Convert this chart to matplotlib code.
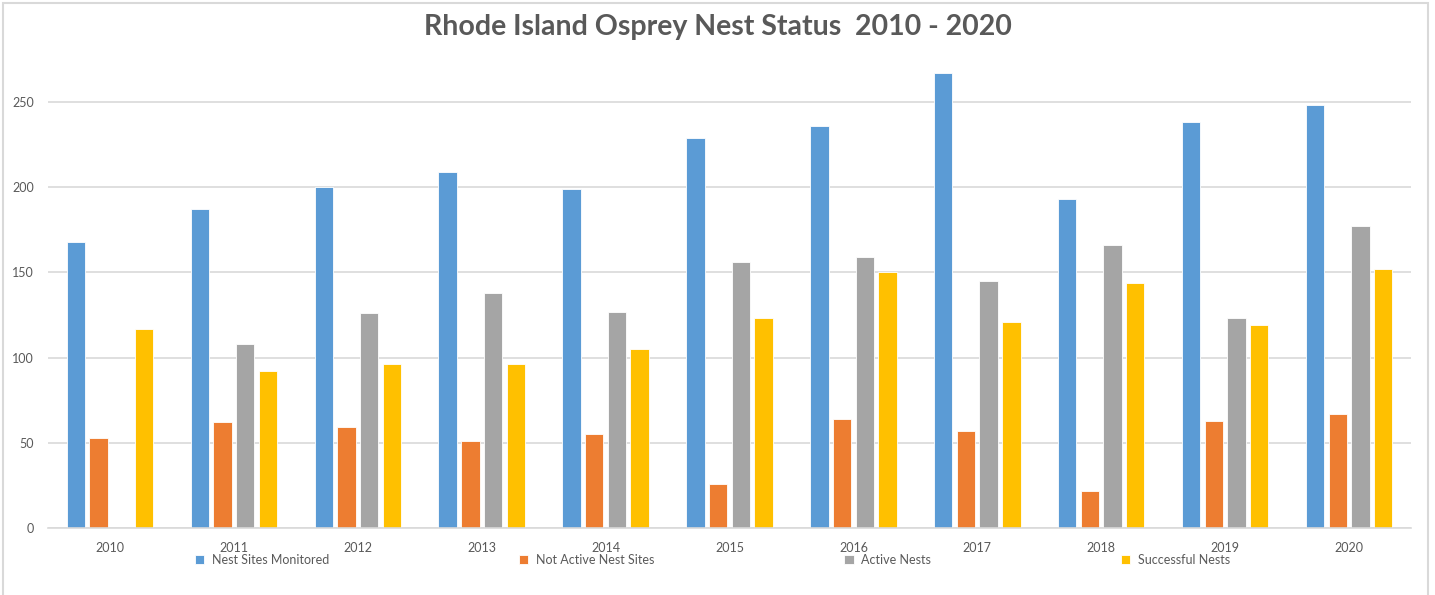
import numpy as np
import matplotlib
matplotlib.use('Agg')
import matplotlib.pyplot as plt
from matplotlib.patches import Rectangle

years = ['2010', '2011', '2012', '2013', '2014', '2015', '2016', '2017', '2018', '2019', '2020']
monitored = [168, 187, 200, 209, 199, 229, 236, 267, 193, 238, 248]
not_active = [53, 62, 59, 51, 55, 26, 64, 57, 22, 63, 67]
active = [np.nan, 108, 126, 138, 127, 156, 159, 145, 166, 123, 177]
successful = [117, 92, 96, 96, 105, 123, 150, 121, 144, 119, 152]

series = [('Nest Sites Monitored', monitored, '#5B9BD5'),
          ('Not Active Nest Sites', not_active, '#ED7D31'),
          ('Active Nests', active, '#A5A5A5'),
          ('Successful Nests', successful, '#FFC000')]

plt.rcParams['font.family'] = ['Lato', 'DejaVu Sans']
txt = '#595959'

fig = plt.figure(figsize=(14.35, 5.95), dpi=100)
ax = fig.add_axes([48/1435, 1 - 528/595, 1363/1435, 468/595])

x = np.arange(len(years))
slot = 0.183
width = 0.148
for i, (name, vals, col) in enumerate(series):
    ax.bar(x + (i - 1.5) * slot, vals, width, color=col, label=name,
           edgecolor='white', linewidth=0.6)

ax.set_xlim(-0.5, len(years) - 0.5)
ax.set_ylim(0, 274.6)
ax.set_yticks([0, 50, 100, 150, 200, 250])
ax.set_xticks(x)
ax.set_xticklabels(years)
ax.yaxis.grid(True, color='#D9D9D9', linewidth=1.2)
ax.set_axisbelow(True)
for s in ['top', 'right', 'left']:
    ax.spines[s].set_visible(False)
ax.spines['bottom'].set_color('#D9D9D9')
ax.spines['bottom'].set_linewidth(1.2)
ax.tick_params(axis='both', length=0, colors=txt, labelsize=9)
ax.tick_params(axis='x', pad=10)
ax.tick_params(axis='y', pad=10)

fig.text(0.5, 1 - 27/595, 'Rhode Island Osprey Nest Status  2010 - 2020',
         ha='center', va='center', fontsize=20.5, fontweight='bold', color=txt)

fig.legend(loc='center', bbox_to_anchor=(190/1435, 1 - 568/595, 1045/1435, 16/595),
           mode='expand', ncol=4, frameon=False, fontsize=9, labelcolor=txt,
           handlelength=0.75, handleheight=0.75, handletextpad=0.6, borderaxespad=0)

fig.patches.append(Rectangle((3/1435, -0.02), 1425/1435, 1 - 3/595 + 0.02,
                             transform=fig.transFigure, fill=False,
                             edgecolor='#D9D9D9', linewidth=1.5))

fig.savefig('out.png', dpi=100)
